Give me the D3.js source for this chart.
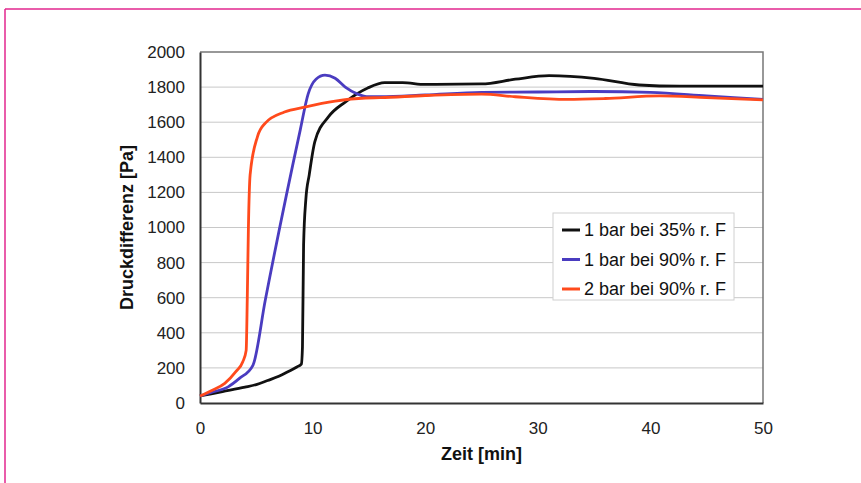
<html>
<head>
    <meta charset="utf-8">
    <title>Druckdifferenz</title>
    <script src="https://cdn.jsdelivr.net/npm/d3@7/dist/d3.min.js" charset="utf-8"></script>
    <style>
        body { margin: 0; background: #fff; }
        text { font-family: "Liberation Sans", Arial, sans-serif; }
    </style>
</head>
<body>
<script>
    // [Zeit in min, Druckdifferenz in Pa]
    var bar1rf35 = [[0,40],[2,65],[4,90],[5,105],[6,128],[7,152],[7.8,178],[8.6,205],[9.0,222],
        [9.1,320],[9.2,900],[9.4,1160],[9.7,1300],[10.2,1490],[11.4,1630],[12.9,1715],[14.9,1795],
        [16.4,1825],[18,1825],[20,1815],[25,1818],[28,1845],[31,1865],[35,1850],[39,1812],
        [42.6,1805],[46,1805],[50,1805]];
    var bar1rf90 = [[0,40],[1,60],[2.5,92],[3.5,140],[4.7,215],[5.8,587],[8.9,1555],[9.6,1760],
        [10.3,1845],[11.1,1868],[12,1850],[12.9,1800],[14,1760],[14.8,1746],[16,1745],[20,1755],
        [25,1770],[30,1772],[35,1775],[40,1770],[45,1750],[50,1730]];
    var bar2rf90 = [[0,40],[1,70],[2.2,112],[3.2,180],[3.8,235],[4.1,300],[4.2,600],[4.3,1000],
        [4.45,1300],[5.1,1517],[5.8,1595],[7.5,1658],[9.3,1686],[12,1720],[14.7,1738],[16,1740],
        [20,1752],[25,1760],[28,1745],[32.6,1730],[36,1735],[40.8,1750],[45,1740],[50,1727]];

    var seriesNames = ["1 bar bei 35% r. F", "1 bar bei 90% r. F", "2 bar bei 90% r. F"];
    var seriesColors = ["#111111", "#4a3cc0", "#ff4a1c"];
    var xTicks = [0, 10, 20, 30, 40, 50];
    var yTicks = [0, 200, 400, 600, 800, 1000, 1200, 1400, 1600, 1800, 2000];

    var width = 861;
    var height = 483;
    var plot = {left: 200, right: 763, top: 52, bottom: 403};

    var svg = d3.select("body")
        .append("svg")
        .attr("width", width)
        .attr("height", height);

    // magenta frame of the page
    svg.append("line").attr("x1", 5).attr("y1", 9).attr("x2", width).attr("y2", 9)
        .attr("stroke", "#e2268e").attr("stroke-width", 1.5);
    svg.append("line").attr("x1", 5).attr("y1", 9).attr("x2", 5).attr("y2", height)
        .attr("stroke", "#e2268e").attr("stroke-width", 1.5);

    var x = d3.scaleLinear().domain([0, 50]).range([plot.left, plot.right]);
    var y = d3.scaleLinear().domain([0, 2000]).range([plot.bottom, plot.top]);

    // gridlines
    svg.append("g")
        .selectAll("line")
        .data(yTicks.slice(1, -1))
        .enter()
        .append("line")
        .attr("x1", plot.left)
        .attr("x2", plot.right)
        .attr("y1", function(d){ return y(d); })
        .attr("y2", function(d){ return y(d); })
        .attr("stroke", "#c8c8c8")
        .attr("stroke-width", 1);

    // frame top / right
    svg.append("path")
        .attr("d", "M" + plot.left + "," + plot.top + "H" + plot.right + "V" + plot.bottom)
        .attr("fill", "none")
        .attr("stroke", "#777")
        .attr("stroke-width", 1.5);

    var xAxis = svg.append("g")
        .attr("transform", "translate(0," + plot.bottom + ")")
        .call(d3.axisBottom(x).tickValues(xTicks).tickSize(0).tickPadding(19).tickFormat(d3.format("d")));
    var yAxis = svg.append("g")
        .attr("transform", "translate(" + plot.left + ",0)")
        .call(d3.axisLeft(y).tickValues(yTicks).tickSize(0).tickPadding(15).tickFormat(d3.format("d")));

    [xAxis, yAxis].forEach(function(a){
        a.select(".domain").attr("stroke", "#333").attr("stroke-width", 2);
        a.selectAll("text").attr("font-size", "17px").attr("fill", "#222")
            .style("font-family", "'Liberation Sans', Arial, sans-serif");
    });

    var line = d3.line()
        .x(function(d){ return x(d[0]); })
        .y(function(d){ return y(d[1]); })
        .curve(d3.curveMonotoneX);

    var allSeries = [bar1rf35, bar1rf90, bar2rf90];
    allSeries.forEach(function(s, i){
        svg.append("path")
            .datum(s)
            .attr("d", line)
            .attr("fill", "none")
            .attr("stroke", seriesColors[i])
            .attr("stroke-width", 2.8)
            .attr("stroke-linejoin", "round");
    });

    // axis titles
    svg.append("text")
        .attr("transform", "translate(133," + ((plot.top + plot.bottom) / 2) + ") rotate(-90)")
        .attr("text-anchor", "middle")
        .attr("font-size", "18px")
        .attr("font-weight", "bold")
        .attr("fill", "#111")
        .text("Druckdifferenz [Pa]");
    svg.append("text")
        .attr("x", (plot.left + plot.right) / 2)
        .attr("y", 460)
        .attr("text-anchor", "middle")
        .attr("font-size", "18px")
        .attr("font-weight", "bold")
        .attr("fill", "#111")
        .text("Zeit [min]");

    // legend
    var legend = svg.append("g").attr("transform", "translate(553,213)");
    legend.append("rect")
        .attr("width", 181).attr("height", 87)
        .attr("fill", "#fff").attr("stroke", "#d0d0d0").attr("stroke-width", 1);
    var item = legend.selectAll("g.item")
        .data(seriesNames)
        .enter()
        .append("g")
        .attr("class", "item")
        .attr("transform", function(d, i){ return "translate(0," + (17 + i * 29.5) + ")"; });
    item.append("line")
        .attr("x1", 9).attr("x2", 27)
        .attr("stroke", function(d, i){ return seriesColors[i]; })
        .attr("stroke-width", 3);
    item.append("text")
        .attr("x", 31)
        .attr("dy", "0.35em")
        .attr("font-size", "18px")
        .attr("fill", "#111")
        .text(function(d){ return d; });
</script>
</body>
</html>
